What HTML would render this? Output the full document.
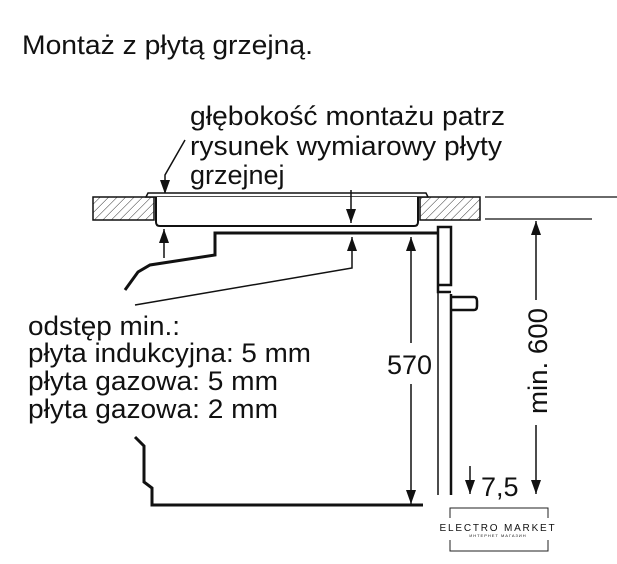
<!DOCTYPE html>
<html><head><meta charset="utf-8"><style>
body{margin:0;background:#fff}
svg{display:block}
text{font-family:"Liberation Sans",sans-serif;fill:#111}
</style></head><body>
<svg width="617" height="564" viewBox="0 0 617 564" xmlns="http://www.w3.org/2000/svg">
<defs>
<pattern id="h" width="6" height="6" patternUnits="userSpaceOnUse" patternTransform="rotate(45)">
<line x1="0" y1="0" x2="0" y2="6" stroke="#333" stroke-width="1"/>
</pattern>
<marker id="a" viewBox="0 0 14 10" refX="14" refY="5" markerWidth="14" markerHeight="10" orient="auto-start-reverse" markerUnits="userSpaceOnUse">
<path d="M0,0 L14,5 L0,10 z" fill="#111"/>
</marker>
</defs>
<text x="22" y="54" font-size="27" textLength="291" lengthAdjust="spacingAndGlyphs">Montaż z płytą grzejną.</text>
<text x="190" y="125" font-size="27" textLength="315" lengthAdjust="spacingAndGlyphs">głębokość montażu patrz</text>
<text x="190" y="155" font-size="27" textLength="312" lengthAdjust="spacingAndGlyphs">rysunek wymiarowy płyty</text>
<text x="190" y="184" font-size="27">grzejnej</text>
<polyline points="185,140 165,175 165,194" fill="none" stroke="#111" stroke-width="1.5" marker-end="url(#a)"/>
<!-- countertop -->
<rect x="93" y="197" width="61" height="23" fill="url(#h)" stroke="#111" stroke-width="1.5"/>
<rect x="420" y="197" width="60" height="23" fill="url(#h)" stroke="#111" stroke-width="1.5"/>
<line x1="485" y1="197" x2="617" y2="197" stroke="#111" stroke-width="1.2"/>
<line x1="485" y1="219" x2="592" y2="219" stroke="#111" stroke-width="1.2"/>
<!-- hob -->
<path d="M146,197 L148,193 L426,193 L428,197 Z" fill="#fff" stroke="#111" stroke-width="1.5"/>
<path d="M156,197 L156,222 Q156,226 160,226 L414,226 Q418,226 418,222 L418,197" fill="#fff" stroke="#111" stroke-width="2"/>
<line x1="351" y1="190" x2="351" y2="223" stroke="#111" stroke-width="1.5" marker-end="url(#a)"/>
<line x1="164" y1="258" x2="164" y2="229" stroke="#111" stroke-width="1.5" marker-end="url(#a)"/>
<!-- oven top -->
<polyline points="438,233 215,233 215,255 150,265 138,272 125,290" fill="none" stroke="#111" stroke-width="3"/>
<polyline points="135,305 352,268 352,237" fill="none" stroke="#111" stroke-width="1.5" marker-end="url(#a)"/>
<!-- 570 -->
<line x1="411" y1="260" x2="411" y2="237" stroke="#111" stroke-width="1.5" marker-end="url(#a)"/>
<line x1="411" y1="260" x2="411" y2="343" stroke="#111" stroke-width="1.5"/>
<line x1="411" y1="384" x2="411" y2="504" stroke="#111" stroke-width="1.5" marker-end="url(#a)"/>
<text x="387" y="374" font-size="27">570</text>
<!-- front -->
<polyline points="438,285 438,227 451,227 451,285 438,285" fill="none" stroke="#111" stroke-width="2.5"/>
<polyline points="438,285 438,292 451,292" fill="none" stroke="#111" stroke-width="2.5"/>
<line x1="438" y1="292" x2="438" y2="495" stroke="#111" stroke-width="1.5"/>
<line x1="451" y1="294" x2="451" y2="495" stroke="#111" stroke-width="2.5"/>
<path d="M451,297 L474,297 Q477,297 477,301 L477,306 Q477,310 474,310 L451,310" fill="none" stroke="#111" stroke-width="2.5"/>
<!-- min 600 -->
<line x1="536" y1="300" x2="536" y2="221" stroke="#111" stroke-width="1.5" marker-end="url(#a)"/>
<line x1="536" y1="425" x2="536" y2="494" stroke="#111" stroke-width="1.5" marker-end="url(#a)"/>
<text transform="translate(547,361) rotate(-90)" text-anchor="middle" font-size="27" textLength="106" lengthAdjust="spacingAndGlyphs">min. 600</text>
<!-- 7,5 -->
<line x1="470" y1="466" x2="470" y2="494" stroke="#111" stroke-width="1.5" marker-end="url(#a)"/>
<text x="481" y="496" font-size="27">7,5</text>
<!-- left text -->
<text x="28" y="335" font-size="27" textLength="152" lengthAdjust="spacingAndGlyphs">odstęp min.:</text>
<text x="28" y="362" font-size="27" textLength="283" lengthAdjust="spacingAndGlyphs">płyta indukcyjna: 5 mm</text>
<text x="28" y="390" font-size="27" textLength="250" lengthAdjust="spacingAndGlyphs">płyta gazowa: 5 mm</text>
<text x="28" y="418" font-size="27" textLength="250" lengthAdjust="spacingAndGlyphs">płyta gazowa: 2 mm</text>
<!-- bottom -->
<polyline points="135,437 144,446 144,482 152,488 152,505 423,505" fill="none" stroke="#111" stroke-width="3"/>
<!-- logo -->
<polyline points="450,518 450,508 548,508 548,518" fill="none" stroke="#222" stroke-width="1"/>
<polyline points="450,540 450,551 548,551 548,540" fill="none" stroke="#222" stroke-width="1"/>
<text x="498" y="531" font-size="10" text-anchor="middle" letter-spacing="1.8">ELECTRO MARKET</text>
<text x="498" y="537" font-size="4" text-anchor="middle" letter-spacing="1">ИНТЕРНЕТ МАГАЗИН</text>
</svg>
</body></html>
